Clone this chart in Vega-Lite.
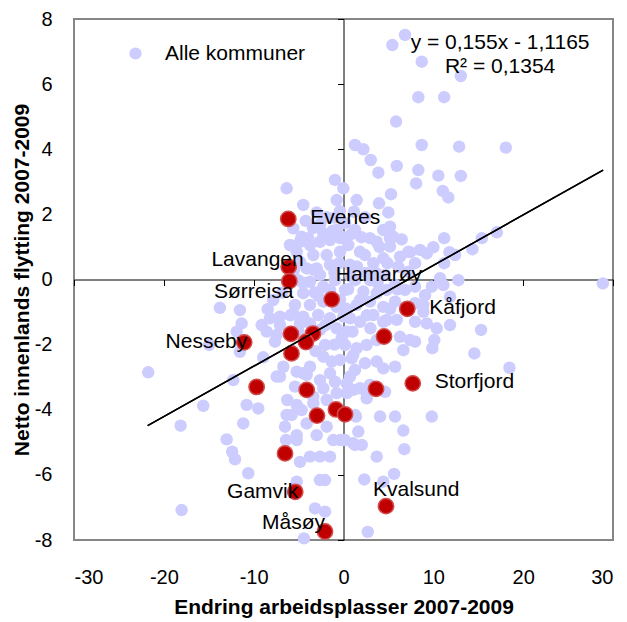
{
  "$schema": "https://vega.github.io/schema/vega-lite/v6.json",
  "width": 539,
  "height": 521,
  "autosize": {"type": "none"},
  "padding": {"left": 74, "top": 19, "right": 14, "bottom": 82},
  "config": {
    "view": {"stroke": "#868686", "strokeWidth": 2},
    "font": "Liberation Sans"
  },
  "datasets": {
    "alle": [
      {"x":6.85,"y":7.51},{"x":5.44,"y":7.20},{"x":8.71,"y":6.69},{"x":13.06,"y":6.25},{"x":8.33,"y":5.60},{"x":11.20,"y":5.60},
      {"x":5.85,"y":4.85},{"x":1.28,"y":4.13},{"x":2.21,"y":4.00},{"x":8.71,"y":4.13},{"x":12.87,"y":4.08},{"x":18.07,"y":4.05},
      {"x":3.03,"y":3.67},{"x":3.88,"y":3.28},{"x":5.93,"y":3.49},{"x":8.33,"y":3.36},{"x":10.56,"y":3.19},{"x":13.06,"y":3.18},
      {"x":8.08,"y":2.95},{"x":-0.95,"y":3.06},{"x":-0.02,"y":2.80},{"x":11.05,"y":2.72},{"x":11.67,"y":2.52},{"x":5.29,"y":2.62},
      {"x":1.47,"y":2.44},{"x":3.95,"y":2.34},{"x":-0.76,"y":2.44},{"x":4.99,"y":2.06},{"x":-4.48,"y":2.29},{"x":-2.99,"y":2.06},
      {"x":17.07,"y":1.45},{"x":15.40,"y":1.27},{"x":14.35,"y":0.93},{"x":11.20,"y":1.27},{"x":10.00,"y":0.99},{"x":9.27,"y":0.80},
      {"x":11.79,"y":0.84},{"x":11.20,"y":0.50},{"x":7.41,"y":0.84},{"x":6.48,"y":1.23},{"x":5.18,"y":1.01},{"x":2.95,"y":1.27},
      {"x":28.87,"y":-0.12},{"x":12.79,"y":-0.02},{"x":10.75,"y":0.04},{"x":9.83,"y":-0.22},{"x":1.17,"y":2.08},{"x":2.40,"y":1.91},
      {"x":5.18,"y":1.62},{"x":5.55,"y":1.31},{"x":-6.33,"y":2.80},{"x":-5.59,"y":1.57},{"x":-4.66,"y":1.31},{"x":-2.25,"y":1.42},
      {"x":-0.76,"y":1.52},{"x":0.17,"y":1.73},{"x":-1.87,"y":1.91},{"x":1.28,"y":1.52},{"x":4.43,"y":1.52},{"x":-3.92,"y":1.27},
      {"x":11.12,"y":-0.17},{"x":9.08,"y":-0.48},{"x":7.97,"y":-0.73},{"x":8.89,"y":-0.99},{"x":11.86,"y":-0.53},{"x":11.86,"y":-1.40},
      {"x":10.38,"y":-1.50},{"x":9.27,"y":-1.35},{"x":6.29,"y":-1.76},{"x":7.97,"y":-1.91},{"x":7.22,"y":0.85},{"x":8.52,"y":0.91},
      {"x":12.42,"y":0.75},{"x":7.97,"y":0.50},{"x":7.22,"y":0.24},{"x":6.10,"y":0.39},{"x":4.43,"y":0.65},{"x":3.32,"y":0.50},
      {"x":1.84,"y":0.85},{"x":3.70,"y":1.16},{"x":5.18,"y":1.27},{"x":0.53,"y":1.06},{"x":0.72,"y":0.45},{"x":2.21,"y":-0.37},
      {"x":3.70,"y":-0.42},{"x":4.81,"y":-0.32},{"x":5.74,"y":-0.68},{"x":4.43,"y":-0.84},{"x":2.95,"y":-0.68},{"x":3.32,"y":-1.09},
      {"x":4.81,"y":-1.24},{"x":1.47,"y":-0.78},{"x":0.72,"y":-1.19},{"x":1.84,"y":-1.30},{"x":5.93,"y":-1.24},{"x":-4.84,"y":1.16},
      {"x":-3.73,"y":1.06},{"x":-2.62,"y":1.16},{"x":-5.21,"y":0.85},{"x":-3.36,"y":0.75},{"x":-1.87,"y":0.75},{"x":-1.50,"y":0.45},
      {"x":-0.39,"y":0.85},{"x":-4.10,"y":0.34},{"x":-2.98,"y":0.34},{"x":-3.73,"y":-0.07},{"x":-2.25,"y":-0.22},{"x":-4.48,"y":-0.42},
      {"x":-5.40,"y":-0.78},{"x":-3.73,"y":-0.78},{"x":-2.25,"y":-0.68},{"x":-0.76,"y":-0.84},{"x":-4.48,"y":-1.14},{"x":-2.81,"y":-1.09},
      {"x":-1.50,"y":-1.19},{"x":-0.02,"y":-1.14},{"x":-7.07,"y":-1.14},{"x":-8.19,"y":-1.19},{"x":-11.53,"y":-0.94},{"x":-11.34,"y":-1.35},
      {"x":-9.11,"y":-1.40},{"x":-7.82,"y":-0.63},{"x":-8.55,"y":-1.60},{"x":-7.44,"y":-1.70},{"x":-7.07,"y":-1.40},{"x":-3.73,"y":-1.35},
      {"x":-0.76,"y":-1.50},{"x":-11.89,"y":-1.60},{"x":0.36,"y":-1.60},{"x":-21.74,"y":-2.85},{"x":-18.13,"y":-4.49},{"x":-18.02,"y":-7.08},
      {"x":-15.61,"y":-3.88},{"x":-14.95,"y":-2.01},{"x":-13.76,"y":-0.87},{"x":-12.27,"y":-3.09},{"x":-11.53,"y":-2.22},{"x":-10.78,"y":-3.85},
      {"x":-9.49,"y":-3.96},{"x":-11.16,"y":-4.42},{"x":-13.01,"y":-4.91},{"x":-12.39,"y":-5.29},{"x":-12.08,"y":-5.52},{"x":-10.60,"y":-5.95},
      {"x":-8.44,"y":-0.91},{"x":-8.93,"y":-2.39},{"x":-7.44,"y":-2.98},{"x":-7.63,"y":-1.91},{"x":-6.51,"y":-4.52},{"x":-6.33,"y":-4.16},
      {"x":-6.26,"y":-3.70},{"x":-5.21,"y":-4.78},{"x":-4.84,"y":-5.60},{"x":-3.73,"y":-5.44},{"x":-2.62,"y":-5.44},{"x":-5.21,"y":-6.21},
      {"x":-3.17,"y":-7.03},{"x":-4.40,"y":-7.95},{"x":-2.62,"y":-6.16},{"x":-5.59,"y":-1.04},{"x":-4.84,"y":-1.35},{"x":-4.48,"y":-2.88},
      {"x":-5.40,"y":-3.29},{"x":-7.07,"y":-2.98},{"x":-6.70,"y":-2.68},{"x":-5.21,"y":-2.83},{"x":-3.73,"y":-2.68},{"x":-2.25,"y":-2.37},
      {"x":-1.31,"y":-2.52},{"x":-0.39,"y":-2.47},{"x":-1.50,"y":-2.88},{"x":-2.62,"y":-3.09},{"x":-2.25,"y":-3.34},{"x":-1.87,"y":-3.70},
      {"x":-0.76,"y":-3.49},{"x":-5.21,"y":-3.85},{"x":-4.66,"y":-4.01},{"x":-5.77,"y":-4.16},{"x":-2.98,"y":-4.78},{"x":-1.87,"y":-4.52},
      {"x":-1.14,"y":-4.93},{"x":-0.39,"y":-4.93},{"x":-4.10,"y":-4.42},{"x":-3.36,"y":-3.60},{"x":-4.10,"y":-2.93},{"x":15.31,"y":-1.55},
      {"x":10.11,"y":-1.86},{"x":9.89,"y":-2.11},{"x":14.57,"y":-2.27},{"x":18.47,"y":-2.71},{"x":9.83,"y":-4.21},{"x":5.74,"y":-4.21},
      {"x":4.07,"y":-4.21},{"x":6.66,"y":-4.64},{"x":6.77,"y":-5.21},{"x":3.70,"y":-5.44},{"x":5.63,"y":-5.97},{"x":2.32,"y":-6.14},
      {"x":4.43,"y":-6.21},{"x":2.70,"y":-7.75},{"x":-2.06,"y":-6.16},{"x":-1.50,"y":-5.44},{"x":1.09,"y":-5.03},{"x":1.65,"y":-4.67},
      {"x":1.39,"y":-4.21},{"x":5.74,"y":-2.68},{"x":4.43,"y":-2.73},{"x":3.70,"y":-2.52},{"x":2.39,"y":-2.57},{"x":0.91,"y":-2.42},
      {"x":0.72,"y":-2.98},{"x":1.84,"y":-3.34},{"x":1.28,"y":-2.78},{"x":1.09,"y":-3.39},{"x":2.58,"y":-3.49},{"x":-0.95,"y":-3.14},
      {"x":-3.36,"y":-3.80},{"x":7.41,"y":-1.86},{"x":6.66,"y":-2.17},{"x":7.97,"y":-1.30},{"x":8.89,"y":-0.78},{"x":7.97,"y":-0.22},
      {"x":4.43,"y":-1.30},{"x":3.70,"y":-1.86},{"x":2.58,"y":-2.01},{"x":1.47,"y":-2.11},{"x":2.03,"y":-5.08},{"x":-6.40,"y":-4.93},
      {"x":-5.21,"y":-4.93},{"x":-2.06,"y":-7.13},{"x":0.17,"y":-2.01},{"x":1.09,"y":-2.32},{"x":0.17,"y":-4.93},{"x":1.28,"y":-5.08},
      {"x":2.95,"y":-3.24},{"x":4.62,"y":-3.45},{"x":0.36,"y":-3.19},{"x":0.36,"y":-3.49},{"x":2.58,"y":-3.65},{"x":1.28,"y":-4.16},
      {"x":-4.84,"y":0.54},{"x":-2.62,"y":0.14},{"x":-0.95,"y":-0.02},{"x":0.17,"y":-0.32},{"x":1.28,"y":-0.02},{"x":2.95,"y":-0.02},
      {"x":4.62,"y":0.14},{"x":5.74,"y":-0.17},{"x":6.85,"y":-0.32},{"x":1.84,"y":-0.63},{"x":-0.39,"y":-0.63},{"x":-1.50,"y":-0.32},
      {"x":-5.07,"y":-0.02},{"x":2.39,"y":0.75},{"x":-1.50,"y":1.21},{"x":-0.39,"y":1.27},{"x":-3.40,"y":1.58},{"x":-5.96,"y":1.06},
      {"x":-2.06,"y":-2.01},{"x":-2.62,"y":-1.55},{"x":-1.0,"y":1.9},{"x":-0.4,"y":2.1},
      {"x":-5.5,"y":0.3},{"x":-4.5,"y":-0.1},{"x":-3.2,"y":-0.4},{"x":-1.0,"y":0.2},{"x":-0.5,"y":0.5},{"x":0.8,"y":0.1},
      {"x":1.5,"y":0.4},{"x":2.5,"y":0.2},{"x":3.8,"y":-0.1},{"x":4.9,"y":0.5},{"x":0.3,"y":-0.9},{"x":-1.1,"y":-0.6},
      {"x":-2.8,"y":-0.5},{"x":-5.0,"y":-1.6},{"x":-2.0,"y":-1.4},{"x":1.0,"y":-1.6},{"x":2.6,"y":-1.1},{"x":3.0,"y":-1.5},
      {"x":5.2,"y":-0.9},{"x":6.0,"y":-0.3},{"x":0.9,"y":1.4},{"x":2.0,"y":1.3},{"x":4.0,"y":1.0},{"x":-2.6,"y":1.7},
      {"x":-4.2,"y":1.8},{"x":-1.2,"y":1.5},{"x":0.0,"y":1.3},{"x":6.3,"y":0.7},{"x":3.6,"y":0.2},{"x":-6.8,"y":-0.4},
      {"x":-5.9,"y":-1.1},{"x":-3.1,"y":-2.2},{"x":-1.0,"y":-2.0},{"x":-0.2,"y":-1.8},{"x":0.5,"y":-0.3},{"x":-3.3,"y":0.3}
    ],
    "utvalgte": [
      {"x":-6.15,"y":1.86,"navn":"Evenes"},{"x":-6.10,"y":0.39,"navn":"Lavangen"},{"x":-6.03,"y":-0.05,"navn":"Sørreisa"},
      {"x":-1.31,"y":-0.61,"navn":"Hamarøy"},{"x":7.10,"y":-0.90,"navn":"Kåfjord"},{"x":-11.05,"y":-1.93,"navn":"Nesseby"},
      {"x":-5.85,"y":-1.67,"navn":""},{"x":-5.79,"y":-2.27,"navn":""},{"x":-3.40,"y":-1.66,"navn":""},{"x":-4.18,"y":-1.92,"navn":""},
      {"x":4.51,"y":-1.75,"navn":""},{"x":-9.67,"y":-3.30,"navn":""},{"x":-4.10,"y":-3.39,"navn":""},{"x":-2.95,"y":-4.18,"navn":""},
      {"x":-0.84,"y":-3.99,"navn":""},{"x":0.17,"y":-4.14,"navn":""},{"x":3.62,"y":-3.36,"navn":""},{"x":7.71,"y":-3.19,"navn":"Storfjord"},
      {"x":-6.51,"y":-5.34,"navn":""},{"x":-5.37,"y":-6.52,"navn":"Gamvik"},{"x":-2.06,"y":-7.74,"navn":"Måsøy"},{"x":4.73,"y":-6.96,"navn":"Kvalsund"}
    ],
    "trend": [{"x":-21.8,"y":-4.49},{"x":28.9,"y":3.36}],
    "likning": [
      {"x":17.43,"y":7.26,"t":"y = 0,155x - 1,1165"},
      {"x":17.43,"y":6.54,"t":"R² = 0,1354"}
    ]
  },
  "layer": [
    {
      "data": {"name": "alle"},
      "mark": {"type": "point", "filled": true, "opacity": 1, "size": 155},
      "encoding": {
        "x": {"field": "x", "type": "quantitative", "scale": {"domain": [-30, 30], "nice": false, "zero": false},
          "axis": {"orient": "bottom", "values": [-30,-20,-10,0,10,20,30], "ticks": false, "domain": false, "grid": false,
            "labelExpr": "'' + datum.value",
            "labelPadding": 27, "labelFontSize": 20, "labelColor": "#000", "labelFont": "Liberation Sans",
            "title": "Endring arbeidsplasser 2007-2009", "titleFontSize": 21, "titleFontWeight": "bold", "titleColor": "#000",
            "titleFont": "Liberation Sans", "titlePadding": 9}},
        "y": {"field": "y", "type": "quantitative", "scale": {"domain": [-8, 8], "nice": false, "zero": false},
          "axis": {"orient": "left", "values": [-8,-6,-4,-2,0,2,4,6,8], "ticks": false, "domain": false, "grid": false,
            "labelExpr": "'' + datum.value",
            "labelPadding": 22, "labelFontSize": 20, "labelColor": "#000", "labelFont": "Liberation Sans",
            "title": "Netto innenlands flytting 2007-2009", "titleFontSize": 21, "titleFontWeight": "bold", "titleColor": "#000",
            "titleFont": "Liberation Sans", "titlePadding": 2}},
        "color": {"datum": "Alle kommuner", "type": "nominal", "scale": {"range": ["#ccccff"]},
          "legend": {"title": null, "orient": "none", "legendX": 51, "legendY": 24, "padding": 0,
            "symbolType": "circle", "symbolSize": 150, "symbolOpacity": 1, "symbolStrokeWidth": 0,
            "labelFontSize": 21, "labelFont": "Liberation Sans", "labelColor": "#000", "labelOffset": 19}}
      }
    },
    {
      "data": {"name": "trend"},
      "mark": {"type": "line", "color": "#000", "strokeWidth": 1.5},
      "encoding": {
        "x": {"field": "x", "type": "quantitative",
          "axis": {"orient": "bottom", "offset": -260.5, "values": [-30,-20,-10,10,20,30], "labels": false, "ticks": true,
            "tickSize": 6, "tickColor": "#000", "tickWidth": 1, "domain": true, "domainColor": "#000", "domainWidth": 1, "grid": false, "title": null}},
        "y": {"field": "y", "type": "quantitative",
          "axis": {"orient": "left", "offset": -269.5, "values": [-8,-6,-4,-2,2,4,6,8], "labels": false, "ticks": true,
            "tickSize": 6, "tickColor": "#000", "tickWidth": 1, "domain": true, "domainColor": "#000", "domainWidth": 1, "grid": false, "title": null}}
      }
    },
    {
      "data": {"name": "utvalgte"},
      "mark": {"type": "point", "filled": true, "opacity": 1, "size": 235, "fill": "#c00000", "stroke": "#d24b4b", "strokeWidth": 1.5},
      "encoding": {
        "x": {"field": "x", "type": "quantitative", "axis": null},
        "y": {"field": "y", "type": "quantitative", "axis": null}
      }
    },
    {
      "data": {"name": "trend"},
      "mark": {"type": "line", "color": "#000", "strokeWidth": 1.5},
      "encoding": {
        "x": {"field": "x", "type": "quantitative", "axis": null},
        "y": {"field": "y", "type": "quantitative", "axis": null}
      }
    },
    {
      "data": {"name": "utvalgte"},
      "transform": [{"filter": {"field": "navn", "oneOf": ["Evenes", "Kåfjord", "Storfjord"]}}],
      "mark": {"type": "text", "align": "left", "baseline": "middle", "dx": 22, "dy": -1, "fontSize": 21, "font": "Liberation Sans", "color": "#000"},
      "encoding": {
        "x": {"field": "x", "type": "quantitative", "axis": null},
        "y": {"field": "y", "type": "quantitative", "axis": null},
        "text": {"field": "navn"}
      }
    },
    {
      "data": {"name": "utvalgte"},
      "transform": [{"filter": {"field": "navn", "equal": "Hamarøy"}}],
      "mark": {"type": "text", "align": "left", "baseline": "middle", "dx": 4, "dy": -24, "fontSize": 21, "font": "Liberation Sans", "color": "#000"},
      "encoding": {
        "x": {"field": "x", "type": "quantitative", "axis": null},
        "y": {"field": "y", "type": "quantitative", "axis": null},
        "text": {"field": "navn"}
      }
    },
    {
      "data": {"name": "utvalgte"},
      "transform": [{"filter": {"field": "navn", "equal": "Kvalsund"}}],
      "mark": {"type": "text", "align": "left", "baseline": "middle", "dx": -13, "dy": -16, "fontSize": 21, "font": "Liberation Sans", "color": "#000"},
      "encoding": {
        "x": {"field": "x", "type": "quantitative", "axis": null},
        "y": {"field": "y", "type": "quantitative", "axis": null},
        "text": {"field": "navn"}
      }
    },
    {
      "data": {"name": "utvalgte"},
      "transform": [{"filter": {"field": "navn", "equal": "Lavangen"}}],
      "mark": {"type": "text", "align": "right", "baseline": "middle", "dx": 15, "dy": -7, "fontSize": 21, "font": "Liberation Sans", "color": "#000"},
      "encoding": {
        "x": {"field": "x", "type": "quantitative", "axis": null},
        "y": {"field": "y", "type": "quantitative", "axis": null},
        "text": {"field": "navn"}
      }
    },
    {
      "data": {"name": "utvalgte"},
      "transform": [{"filter": {"field": "navn", "equal": "Sørreisa"}}],
      "mark": {"type": "text", "align": "right", "baseline": "middle", "dx": 4, "dy": 11, "fontSize": 21, "font": "Liberation Sans", "color": "#000"},
      "encoding": {
        "x": {"field": "x", "type": "quantitative", "axis": null},
        "y": {"field": "y", "type": "quantitative", "axis": null},
        "text": {"field": "navn"}
      }
    },
    {
      "data": {"name": "utvalgte"},
      "transform": [{"filter": {"field": "navn", "oneOf": ["Nesseby", "Gamvik"]}}],
      "mark": {"type": "text", "align": "right", "baseline": "middle", "dx": 3, "dy": 0, "fontSize": 21, "font": "Liberation Sans", "color": "#000"},
      "encoding": {
        "x": {"field": "x", "type": "quantitative", "axis": null},
        "y": {"field": "y", "type": "quantitative", "axis": null},
        "text": {"field": "navn"}
      }
    },
    {
      "data": {"name": "utvalgte"},
      "transform": [{"filter": {"field": "navn", "equal": "Måsøy"}}],
      "mark": {"type": "text", "align": "right", "baseline": "middle", "dx": 0, "dy": -9, "fontSize": 21, "font": "Liberation Sans", "color": "#000"},
      "encoding": {
        "x": {"field": "x", "type": "quantitative", "axis": null},
        "y": {"field": "y", "type": "quantitative", "axis": null},
        "text": {"field": "navn"}
      }
    },
    {
      "data": {"name": "likning"},
      "mark": {"type": "text", "align": "center", "baseline": "middle", "fontSize": 21, "font": "Liberation Sans", "color": "#000"},
      "encoding": {
        "x": {"field": "x", "type": "quantitative", "axis": null},
        "y": {"field": "y", "type": "quantitative", "axis": null},
        "text": {"field": "t"}
      }
    }
  ],
  "resolve": {"axis": {"x": "independent", "y": "independent"}}
}
